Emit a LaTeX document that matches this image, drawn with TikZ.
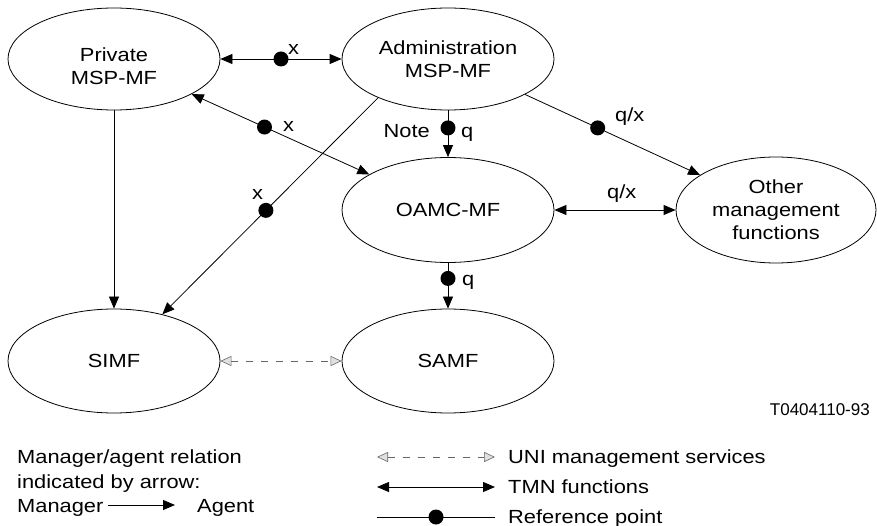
\documentclass[tikz,border=0pt]{standalone}
\usepackage{fontspec}
\setmainfont{Liberation Sans}[FakeStretch=1.15]
\newfontfamily\codefont{Liberation Sans}
\usetikzlibrary{arrows.meta,shapes.geometric}
\begin{document}
\begin{tikzpicture}[x=1pt,y=-1pt,
  every node/.style={font=\fontsize{19}{23}\selectfont, inner sep=0pt},
  ell/.style={draw, ellipse, line width=0.8pt, inner sep=0pt, align=center},
  conn/.style={line width=0.8pt},
  >={Triangle[length=12pt,width=10pt]},
  dot/.style={circle, fill=black, minimum size=15pt, inner sep=0pt},
  uni/.style={draw=black!60, line width=0.8pt, dash pattern=on 7pt off 8pt,
    arrows={Triangle[length=11pt,width=10pt,fill=black!12,color=black!60,line width=0.6pt]-Triangle[length=11pt,width=10pt,fill=black!12,color=black!60,line width=0.6pt]}},
  lab/.style={anchor=base west}
]
\useasboundingbox (0,0) rectangle (877,526);

% ellipses
\node[ell, minimum width=212pt, minimum height=102pt] (priv) at (114,59) {};
\node[align=center] (privtxt) at (114,66) {Private\\MSP-MF};
\node[ell, minimum width=212pt, minimum height=102pt] (adm) at (448,59) {Administration\\MSP-MF};
\node[ell, minimum width=212pt, minimum height=105pt] (oamc) at (448,210) {OAMC-MF};
\node[ell, minimum width=200pt, minimum height=106pt] (other) at (776,210) {Other\\management\\functions};
\node[ell, minimum width=212pt, minimum height=104pt] (simf) at (114,361) {SIMF};
\node[ell, minimum width=212pt, minimum height=104pt] (samf) at (448,361) {SAMF};

% connectors
\draw[conn,<->] (priv) -- node[dot,pos=.5] (d1) {} (adm);
\draw[conn,<->] (priv) -- node[dot,pos=.41] (d2) {} (oamc);
\draw[conn,->] (adm.209.4) -- node[dot,pos=.52] (d3) {} (simf.44.4);
\draw[conn,->] (adm) -- node[dot,pos=.375] (d4) {} (oamc);
\draw[conn,->] (adm) -- node[dot,pos=.415] (d5) {} (other);
\draw[conn,<->] (oamc) -- (other);
\draw[conn,->] (oamc) -- node[dot,pos=.34] (d6) {} (samf);
\draw[conn,->] (priv) -- (simf);
\draw[uni] (simf) -- (samf);

% labels
\node[lab] (x1) at (288,55) {x};
\node[lab] (x2) at (283,132) {x};
\node[lab] (x3) at (252,200) {x};
\node[anchor=base east] (note) at (430,138) {Note};
\node[lab] (q1) at (461,138) {q};
\node[lab] (qx1) at (615,122) {q/x};
\node[lab] (qx2) at (607,199) {q/x};
\node[lab] (q2) at (462,286) {q};
\node[anchor=base east, font=\codefont\fontsize{17}{20}\selectfont] (code) at (870,415) {T0404110-93};

% legend left
\node[lab] (l1) at (17,463) {Manager/agent relation};
\node[lab] (l2) at (17,488) {indicated by arrow:};
\node[lab] (l3) at (17,512) {Manager};
\node[lab] (l4) at (197,512) {Agent};
\coordinate (m1) at (108,505);
\coordinate (m2) at (175,505);
\draw[conn,->] (m1) -- (m2);

% legend right
\coordinate (u1) at (377,457); \coordinate (u2) at (495,457);
\coordinate (t1) at (377,487); \coordinate (t2) at (495,487);
\coordinate (r1) at (377,517); \coordinate (r2) at (495,517);
\draw[uni] (u1) -- (u2);
\draw[conn,<->] (t1) -- (t2);
\draw[conn] (r1) -- node[dot,pos=.5] (d7) {} (r2);
\node[lab] (e1) at (508,463) {UNI management services};
\node[lab] (e2) at (508,493) {TMN functions};
\node[lab] (e3) at (508,523) {Reference point};
\end{tikzpicture}
\end{document}
